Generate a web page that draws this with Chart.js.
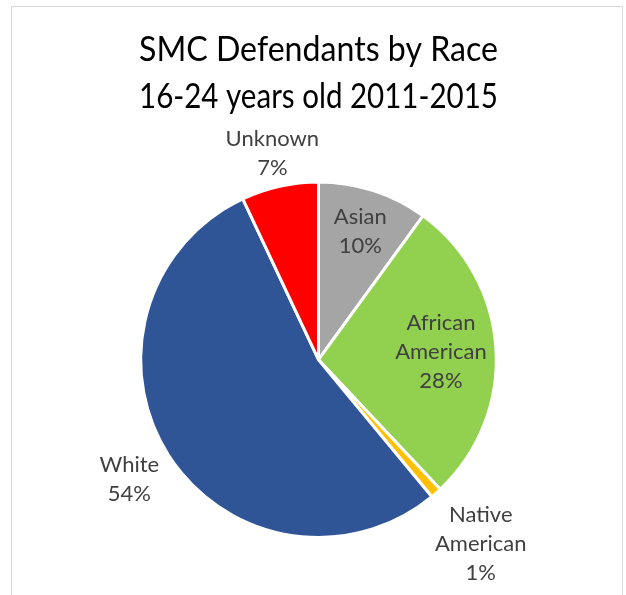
<!DOCTYPE html>
<html>
<head>
<meta charset="utf-8">
<script src="https://cdn.jsdelivr.net/npm/chart.js@4.4.0/dist/chart.umd.min.js"></script>
<style>
  html, body { margin: 0; padding: 0; background: #fff; }
  #wrap { width: 626px; height: 595px; }
</style>
</head>
<body>
<div id="wrap"><canvas id="raceChart" width="626" height="595"></canvas></div>
<script>
// defendants by race, share of total (%)
const races = ["Asian", "African American", "Native American", "White", "Unknown"];
const shares = [10, 28, 1, 54, 7];
const sliceColors = ["#A5A5A5", "#92D050", "#FFC000", "#2F5597", "#FF0000"];
const titleLines = ["SMC Defendants by Race", "16-24 years old 2011-2015"];

// frame around the chart
const framePlugin = {
  id: "frame",
  beforeDraw(chart) {
    const c = chart.ctx;
    c.save();
    c.strokeStyle = "#D9D9D9";
    c.lineWidth = 1;
    c.strokeRect(11.5, 6.5, 611, 620);
    c.restore();
  },
};

// category name + percent, inside or outside each slice
const sliceLabels = {
  id: "sliceLabels",
  afterDatasetsDraw(chart, args, opts) {
    const c = chart.ctx;
    const meta = chart.getDatasetMeta(0);
    c.save();
    c.fillStyle = opts.color;
    c.font = opts.font;
    c.textAlign = "center";
    c.textBaseline = "middle";
    meta.data.forEach((arc, i) => {
      const mid = (arc.startAngle + arc.endAngle) / 2;
      const r = arc.outerRadius * opts.radii[i];
      const x = arc.x + Math.cos(mid) * r;
      const y = arc.y + Math.sin(mid) * r;
      const words = opts.wrap[i];
      const lines = words.concat([Math.round(shares[i]) + "%"]);
      const top = y - ((lines.length - 1) * opts.lineHeight) / 2;
      lines.forEach((ln, k) => c.fillText(ln, x, top + k * opts.lineHeight));
    });
    c.restore();
  },
};

new Chart(document.getElementById("raceChart"), {
  type: "pie",
  data: {
    labels: races,
    datasets: [
      {
        data: shares,
        backgroundColor: sliceColors,
        borderColor: "#FFFFFF",
        borderWidth: 3,
      },
    ],
  },
  options: {
    responsive: false,
    animation: false,
    layout: {
      padding: { left: 139, right: 128, bottom: 56, top: 0 },
    },
    plugins: {
      legend: { display: false },
      tooltip: { enabled: false },
      title: {
        display: true,
        text: titleLines,
        color: "#000000",
        font: { family: "Lato", size: 35, weight: "normal", lineHeight: 1.32 },
        padding: { top: 27, bottom: 61 },
      },
      sliceLabels: {
        color: "#404040",
        font: "22px Lato",
        lineHeight: 29,
        radii: [0.76, 0.69, 1.38, 1.26, 1.19],
        wrap: [["Asian"], ["African", "American"], ["Native", "American"], ["White"], ["Unknown"]],
      },
    },
  },
  plugins: [framePlugin, sliceLabels],
});
</script>
</body>
</html>
